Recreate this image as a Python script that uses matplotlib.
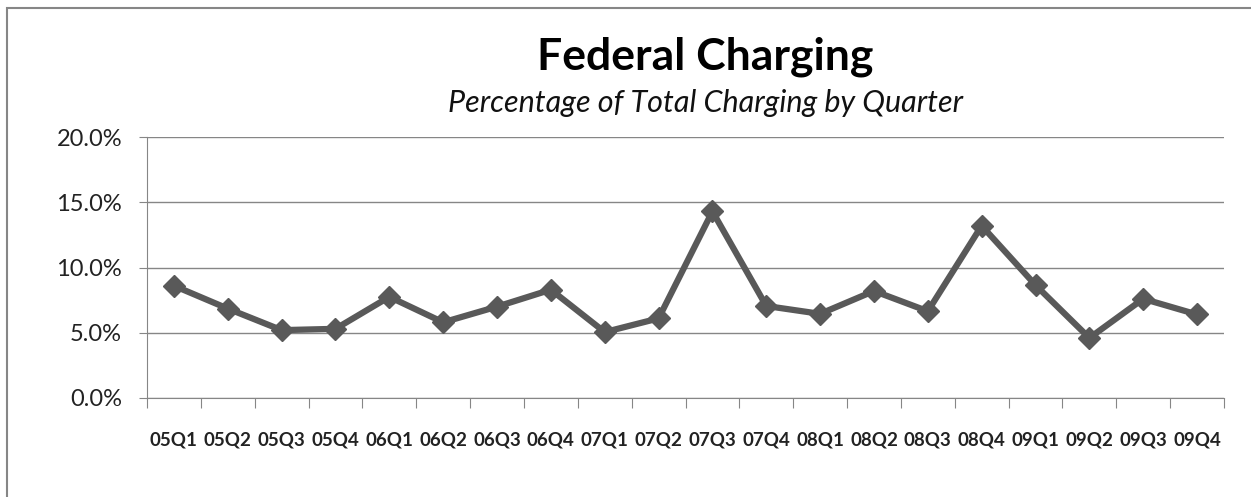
import matplotlib
matplotlib.use("Agg")
import matplotlib.pyplot as plt
from matplotlib.patches import Rectangle

# Data
quarters = ["05Q1", "05Q2", "05Q3", "05Q4", "06Q1", "06Q2", "06Q3", "06Q4",
            "07Q1", "07Q2", "07Q3", "07Q4", "08Q1", "08Q2", "08Q3", "08Q4",
            "09Q1", "09Q2", "09Q3", "09Q4"]
federal_pct = [8.6, 6.85, 5.2, 5.3, 7.75, 5.8, 7.0, 8.3,
               5.05, 6.1, 14.3, 7.05, 6.45, 8.2, 6.65, 13.2,
               8.65, 4.6, 7.6, 6.4]
y_ticks = [0, 5, 10, 15, 20]

plt.rcParams["font.family"] = ["Lato", "DejaVu Sans"]

fig = plt.figure(figsize=(12.51, 4.97), dpi=100)
ax = fig.add_axes([147 / 1251, 1 - 398 / 497, (1224 - 147) / 1251, (398 - 137) / 497])

# Outer chart border (clipped on right/bottom like the screenshot)
fig.patches.append(Rectangle((7 / 1251, -0.1), 1.2, 1 - 8 / 497 + 0.1,
                             transform=fig.transFigure, fill=False,
                             edgecolor="#868686", linewidth=1.5))

x = list(range(len(quarters)))
ax.plot(x, federal_pct, color="#595959", linewidth=4.5, marker="D",
        markersize=11, markeredgecolor="#595959", zorder=3, clip_on=False)

ax.set_xlim(-0.5, len(quarters) - 0.5)
ax.set_ylim(0, 20)

ax.set_yticks(y_ticks)
ax.set_yticklabels([f"{v:.1f}%" for v in y_ticks], fontsize=17, color="#222222")
ax.yaxis.grid(True, color="#868686", linewidth=1)
ax.set_axisbelow(True)

ax.set_xticks([i - 0.5 for i in range(len(quarters) + 1)])
ax.set_xticklabels([])
ax.set_xticks(x, minor=True)
ax.set_xticklabels(quarters, minor=True, fontsize=13.5, fontweight="bold", color="#222222")
ax.tick_params(axis="x", which="major", length=7, color="#868686")
ax.tick_params(axis="x", which="minor", length=0, pad=24)
ax.tick_params(axis="y", length=6, color="#868686", pad=12)

for side in ["top", "right"]:
    ax.spines[side].set_visible(False)
for side in ["left", "bottom"]:
    ax.spines[side].set_color("#868686")

fig.text(705 / 1251, 1 - 57 / 497, "Federal Charging", ha="center", va="center",
         fontsize=32, fontweight="bold", color="black")
fig.text(705 / 1251, 1 - 103 / 497, "Percentage of Total Charging by Quarter",
         ha="center", va="center", fontsize=22, style="italic", color="#111111")

fig.savefig("out.png", dpi=100)
